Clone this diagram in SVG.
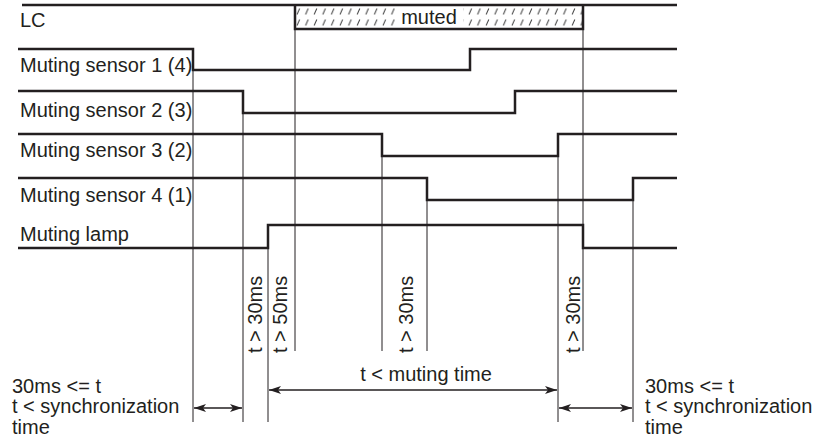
<svg xmlns="http://www.w3.org/2000/svg" width="820" height="447" viewBox="0 0 820 447">
<style>
text{font-family:"Liberation Sans",Arial,sans-serif;font-size:20px;fill:#231f20}
.sig{fill:none;stroke:#231f20;stroke-width:2.5;stroke-linejoin:miter}
.guide{fill:none;stroke:#231f20;stroke-width:1}
.arr{fill:none;stroke:#231f20;stroke-width:1.3;marker-start:url(#ah);marker-end:url(#ah)}
</style>
<defs>
<pattern id="hatch" patternUnits="userSpaceOnUse" x="295" y="6" width="8.6" height="11">
<line x1="2" y1="8.5" x2="4.6" y2="2.5" stroke="#444" stroke-width="1"/>
</pattern>
<marker id="ah" viewBox="0 0 12 8" refX="12" refY="4" markerWidth="12" markerHeight="8" markerUnits="userSpaceOnUse" orient="auto-start-reverse">
<path d="M0,0 L12,4 L0,8 L3,4 Z" fill="#231f20"/>
</marker>
</defs>
<rect width="820" height="447" fill="#fff"/>

<g id="connectors">
<line class="guide" x1="193" y1="70" x2="193" y2="422"/>
<line class="guide" x1="243" y1="113" x2="243" y2="422"/>
<line class="guide" x1="268" y1="248" x2="268" y2="422"/>
<line class="guide" x1="295" y1="29" x2="295" y2="351"/>
<line class="guide" x1="382" y1="156" x2="382" y2="351"/>
<line class="guide" x1="427" y1="200" x2="427" y2="351"/>
<line class="guide" x1="558" y1="156" x2="558" y2="422"/>
<line class="guide" x1="583" y1="29" x2="583" y2="225"/>
<line class="guide" x1="583" y1="248" x2="583" y2="351"/>
<line class="guide" x1="633" y1="200" x2="633" y2="422"/>
<line class="arr" x1="194" y1="408" x2="242" y2="408"/>
<line class="arr" x1="269" y1="390" x2="557" y2="390"/>
<line class="arr" x1="559" y1="408" x2="632" y2="408"/>
</g>

<g id="lc">
<text x="20" y="27">LC</text>
<rect x="295" y="5" width="288" height="24" fill="url(#hatch)"/>
<rect x="395" y="7" width="68" height="21" fill="#fff"/>
<text x="429" y="24" text-anchor="middle">muted</text>
<path class="sig" d="M22,5 H677 M295,5 V29 H583 V5"/>
</g>

<g id="sensor1">
<text x="20" y="72">Muting sensor 1 (4)</text>
<path class="sig" d="M18,49 H193 V70 H470 V49 H677"/>
</g>

<g id="sensor2">
<text x="20" y="117">Muting sensor 2 (3)</text>
<path class="sig" d="M18,91 H243 V113 H515 V91 H677"/>
</g>

<g id="sensor3">
<text x="20" y="157">Muting sensor 3 (2)</text>
<path class="sig" d="M18,134 H382 V156 H558 V134 H677"/>
</g>

<g id="sensor4">
<text x="20" y="202">Muting sensor 4 (1)</text>
<path class="sig" d="M18,178 H427 V200 H633 V178 H677"/>
</g>

<g id="lamp">
<text x="20" y="241">Muting lamp</text>
<path class="sig" d="M18,248 H268 V225 H583 V248 H677"/>
</g>

<g id="timings">
<text transform="translate(262,353) rotate(-90)">t &gt; 30ms</text>
<text transform="translate(287,353) rotate(-90)">t &gt; 50ms</text>
<text transform="translate(413,353) rotate(-90)">t &gt; 30ms</text>
<text transform="translate(580,353) rotate(-90)">t &gt; 30ms</text>
<text x="426" y="381" text-anchor="middle">t &lt; muting time</text>
<text x="12" y="393">30ms &lt;= t</text>
<text x="12" y="413">t &lt; synchronization</text>
<text x="12" y="434">time</text>
<text x="645" y="393">30ms &lt;= t</text>
<text x="645" y="413">t &lt; synchronization</text>
<text x="645" y="434">time</text>
</g>
</svg>
